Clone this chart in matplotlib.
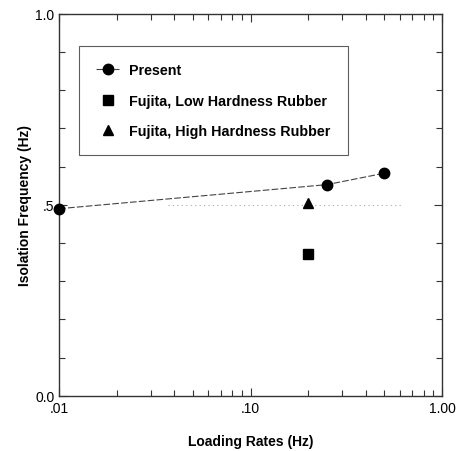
import matplotlib.pyplot as plt
from matplotlib.ticker import FixedLocator, FixedFormatter, LogLocator, NullFormatter

plt.rcParams['font.family'] = ['Liberation Sans', 'DejaVu Sans']

# Present study
present_rate = [0.01, 0.25, 0.5]
present_freq = [0.49, 0.553, 0.583]
# Fujita
low_rate = [0.2]
low_freq = [0.372]
high_rate = [0.2]
high_freq = [0.505]
# dotted reference line
ref_rate = [0.037, 0.62]
ref_freq = [0.5, 0.5]

x_ticks = [0.01, 0.1, 1.0]
x_labels = [".01", ".10", "1.00"]
y_ticks = [0.0, 0.5, 1.0]
y_labels = ["0.0", ".5", "1.0"]

fig = plt.figure(figsize=(4.62, 4.52), dpi=100)
ax = fig.add_axes([0.128, 0.122, 0.829, 0.845])

ax.plot(ref_rate, ref_freq, linestyle=(0, (1, 3)), color="#aaaaaa", linewidth=0.8)
ax.plot(present_rate, present_freq, linestyle=(0, (6, 2)), color="#444444", linewidth=0.8,
        marker="o", markersize=7.5, markerfacecolor="black", markeredgecolor="black",
        label="Present", clip_on=False, zorder=3)
ax.plot(low_rate, low_freq, linestyle="none", marker="s", markersize=6.5, color="black",
        label="Fujita, Low Hardness Rubber")
ax.plot(high_rate, high_freq, linestyle="none", marker="^", markersize=7, color="black",
        label="Fujita, High Hardness Rubber")

ax.set_xscale("log")
ax.set_xlim(0.01, 1.0)
ax.set_ylim(0.0, 1.0)

ax.xaxis.set_major_locator(FixedLocator(x_ticks))
ax.xaxis.set_major_formatter(FixedFormatter(x_labels))
ax.xaxis.set_minor_locator(LogLocator(base=10, subs=range(2, 10)))
ax.xaxis.set_minor_formatter(NullFormatter())
ax.yaxis.set_major_locator(FixedLocator(y_ticks))
ax.yaxis.set_major_formatter(FixedFormatter(y_labels))
ax.yaxis.set_minor_locator(FixedLocator([i / 10 for i in range(1, 10)]))

ax.tick_params(which="both", direction="in", top=True, right=True, labelsize=10, color="#333333")
ax.tick_params(which="major", length=6, width=0.8)
ax.tick_params(which="minor", length=4, width=0.8)
for s in ax.spines.values():
    s.set_linewidth(1.0)
    s.set_color("#333333")

ax.set_xlabel("Loading Rates (Hz)", fontsize=10, fontweight="bold", labelpad=14)
ax.set_ylabel("Isolation Frequency (Hz)", fontsize=10, fontweight="bold", labelpad=2)

leg = ax.legend(loc="upper left", bbox_to_anchor=(0.052, 0.916),
                prop={"weight": "bold", "size": 10.3}, frameon=True, fancybox=False,
                handlelength=1.6, handletextpad=0.7, labelspacing=1.15,
                borderpad=1.2, borderaxespad=0)
leg.get_frame().set_edgecolor("#333333")
leg.get_frame().set_linewidth(0.8)

fig.savefig("out.png", dpi=100)
